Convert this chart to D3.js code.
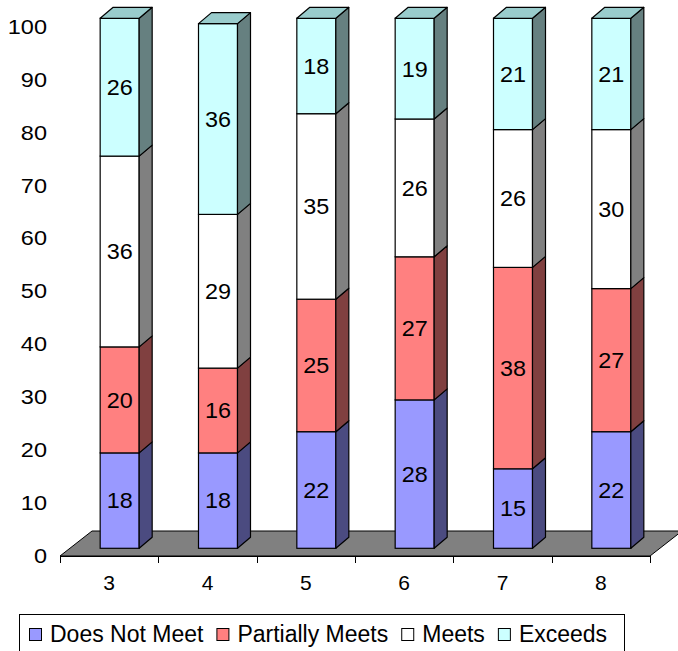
<!DOCTYPE html>
<html>
<head>
<meta charset="utf-8">
<script src="https://cdn.jsdelivr.net/npm/d3@7"></script>
<style>
  html, body { margin: 0; padding: 0; background: #fff; }
  svg { display: block; font-family: "Liberation Sans", Arial, sans-serif; }
</style>
</head>
<body>
<svg id="chart" width="678" height="651"></svg>
<script>
// Grade levels and the share of students (percent) in each performance band
const grades = ["3", "4", "5", "6", "7", "8"];
const doesNotMeet    = [18, 18, 22, 28, 15, 22];
const partiallyMeets = [20, 16, 25, 27, 38, 27];
const meets          = [36, 29, 35, 26, 26, 30];
const exceeds        = [26, 36, 18, 19, 21, 21];
const seriesNames = ["Does Not Meet", "Partially Meets", "Meets", "Exceeds"];
const yTicks = [0, 10, 20, 30, 40, 50, 60, 70, 80, 90, 100];

const FONT = "'Liberation Sans', Arial, sans-serif";

// Face colours per series: front, side, top
const palette = [
  { front: "#9999FF", side: "#4B4B80", top: "#7A7ACC" },
  { front: "#FF8080", side: "#804040", top: "#CC6666" },
  { front: "#FFFFFF", side: "#808080", top: "#CCCCCC" },
  { front: "#CCFFFF", side: "#668080", top: "#99CCCC" }
];

const svg = d3.select("#chart");
const seriesData = [doesNotMeet, partiallyMeets, meets, exceeds];
const table = grades.map((g, i) => {
  const row = { grade: g };
  seriesNames.forEach((s, k) => row[s] = seriesData[k][i]);
  return row;
});
const stacked = d3.stack().keys(seriesNames)(table);

// Category band along the floor's front edge
const x = d3.scaleBand().domain(grades).range([60, 650]).padding(0);
// Value scale for the bars (front plane of the columns)
const y = d3.scaleLinear().domain([0, 100]).range([548.3, 18.3]);
// Value scale for the axis labels on the back wall
const yWall = d3.scaleLinear().domain([0, 100]).range([555, 26]);

const barW = 39;            // front face width
const barShift = 10.5;      // columns sit half-way into the depth
const dx = 13, dy = 11;     // column depth offset
const floorDx = 32, floorDy = 25;

// Floor
const fy = 556;
svg.append("polygon")
  .attr("points", [[60, fy], [60 + floorDx, fy - floorDy], [650 + floorDx, fy - floorDy], [650, fy]].map(p => p.join(",")).join(" "))
  .attr("fill", "#808080")
  .attr("stroke", "#000")
  .attr("stroke-width", 1);

// Value axis labels (slightly wide glyphs)
const yAxis = svg.append("g")
  .attr("transform", "translate(47,0)")
  .call(d3.axisLeft(yWall).tickValues(yTicks).tickSize(0).tickPadding(0));
yAxis.select(".domain").remove();
yAxis.selectAll("text")
  .attr("x", 0)
  .attr("font-size", 21)
  .attr("font-family", FONT)
  .attr("fill", "#000")
  .attr("dy", "0.35em")
  .attr("transform", "scale(1.12,1)");

// Category axis: line along the floor front, ticks at band edges
const xAxis = svg.append("g")
  .attr("transform", `translate(0,${fy})`)
  .call(d3.axisBottom(x).tickSize(0).tickPadding(20));
xAxis.select(".domain").remove();
xAxis.selectAll("text")
  .attr("font-size", 21)
  .attr("font-family", FONT)
  .attr("fill", "#000")
  .attr("dy", "0.35em")
  .attr("y", 27);
const edges = grades.map(g => x(g)).concat([x.range()[1]]);
svg.append("line")
  .attr("x1", 60).attr("x2", 650).attr("y1", fy + 0.5).attr("y2", fy + 0.5)
  .attr("stroke", "#000");
svg.selectAll("line.cat-tick").data(edges).join("line")
  .attr("class", "cat-tick")
  .attr("x1", d => Math.round(d) + 0.5).attr("x2", d => Math.round(d) + 0.5)
  .attr("y1", fy).attr("y2", fy + 7)
  .attr("stroke", "#000");

// Columns
const bars = svg.append("g");
grades.forEach((g, i) => {
  const x0 = x(g) + x.bandwidth() / 2 + barShift - barW / 2;
  const x1 = x0 + barW;
  const col = bars.append("g");
  stacked.forEach((layer, k) => {
    const [v0, v1] = layer[i];
    const yb = y(v0), yt = y(v1);
    const c = palette[k];
    // front face
    col.append("rect")
      .attr("x", x0).attr("y", yt)
      .attr("width", barW).attr("height", yb - yt)
      .attr("fill", c.front).attr("stroke", "#000").attr("stroke-width", 1.2);
    // side face
    col.append("polygon")
      .attr("points", [[x1, yb], [x1 + dx, yb - dy], [x1 + dx, yt - dy], [x1, yt]].map(p => p.join(",")).join(" "))
      .attr("fill", c.side).attr("stroke", "#000").attr("stroke-width", 1.2).attr("stroke-linejoin", "round");
    // top face on the uppermost segment
    if (k === stacked.length - 1) {
      col.append("polygon")
        .attr("points", [[x0, yt], [x0 + dx, yt - dy], [x1 + dx, yt - dy], [x1, yt]].map(p => p.join(",")).join(" "))
        .attr("fill", c.top).attr("stroke", "#000").attr("stroke-width", 1.2).attr("stroke-linejoin", "round");
    }
    // value label
    col.append("text")
      .attr("transform", `translate(${x0 + barW / 2},${(yb + yt) / 2}) scale(1.04,1)`)
      .attr("dy", "0.35em")
      .attr("text-anchor", "middle")
      .attr("font-size", 22.5)
      .attr("font-family", FONT)
      .attr("fill", "#000")
      .text(layer[i].data[seriesNames[k]]);
  });
});

// Legend
const legend = svg.append("g");
legend.append("rect")
  .attr("x", 19.5).attr("y", 614.5).attr("width", 605).attr("height", 50)
  .attr("fill", "#fff").attr("stroke", "#000").attr("stroke-width", 1);
let lx = 29;
seriesNames.forEach((name, k) => {
  legend.append("rect")
    .attr("x", lx + 0.5).attr("y", 628.5).attr("width", 12).attr("height", 12)
    .attr("fill", palette[k].front).attr("stroke", "#000").attr("stroke-width", 1);
  const t = legend.append("text")
    .attr("x", lx + 21).attr("y", 642)
    .attr("font-size", 23)
    .attr("font-family", FONT)
    .attr("fill", "#000")
    .text(name);
  lx = lx + 21 + t.node().getComputedTextLength() + 13;
});
</script>
</body>
</html>
